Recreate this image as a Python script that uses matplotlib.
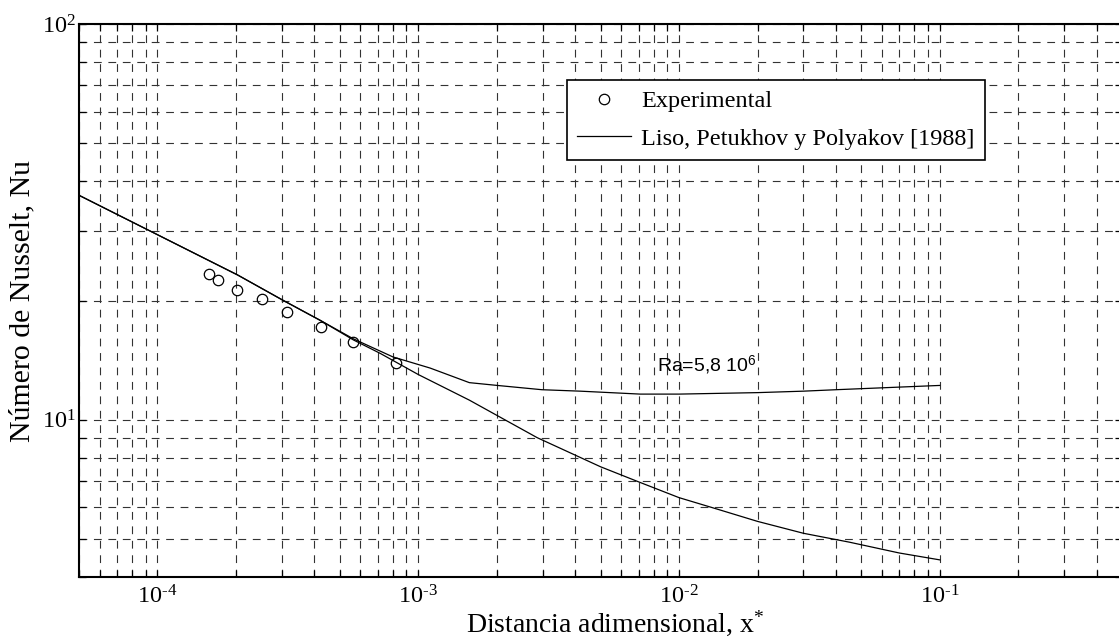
import matplotlib
matplotlib.use("Agg")
import matplotlib.pyplot as plt
from matplotlib.ticker import FuncFormatter
import numpy as np

plt.rcParams['font.family'] = ['Liberation Serif', 'DejaVu Serif']
plt.rcParams['mathtext.fontset'] = 'custom'
plt.rcParams['mathtext.rm'] = 'Liberation Serif'
plt.rcParams['mathtext.it'] = 'Liberation Serif:italic'
plt.rcParams['axes.unicode_minus'] = False

# datos experimentales
x_exp = [1.57e-4, 1.70e-4, 2.01e-4, 2.52e-4, 3.15e-4, 4.22e-4, 5.64e-4, 8.24e-4]
nu_exp = [23.3, 22.6, 21.3, 20.2, 18.7, 17.1, 15.7, 13.9]

# correlacion de Liso, Petukhov y Polyakov, conveccion mixta (Ra=5,8e6)
x_mixta = [5e-5, 2.03e-4, 3.04e-4, 4.22e-4, 5.64e-4, 8.0e-4, 1.11e-3,
           1.57e-3, 2.01e-3, 2.98e-3, 4.18e-3, 7.1e-3, 1e-2, 2e-2, 3e-2, 4e-2, 1e-1]
nu_mixta = [36.9, 23.2, 20.0, 17.8, 16.0, 14.4, 13.5,
            12.4, 12.2, 11.9, 11.8, 11.6, 11.6, 11.7, 11.8, 11.9, 12.2]

# misma correlacion, conveccion forzada
x_forz = [5e-5, 2.03e-4, 3.04e-4, 4.22e-4, 5.64e-4, 7.15e-4, 1e-3, 1.57e-3,
          2.86e-3, 5e-3, 7e-3, 1e-2, 1.4e-2, 2e-2, 3e-2, 4.5e-2, 7e-2, 1e-1]
nu_forz = [36.9, 23.2, 20.0, 17.8, 15.9, 14.7, 13.0, 11.2,
           9.0, 7.6, 6.96, 6.35, 5.94, 5.53, 5.16, 4.9, 4.6, 4.42]


def potencia(v, pos):
    e = int(np.round(np.log10(v)))
    return '$\\mathdefault{10^{\\text{%d}}}$' % e


fig = plt.figure(figsize=(11.19, 6.40), dpi=100)
ax = fig.add_axes([0.0706, 0.0984, 0.9321, 0.8641])

ax.plot(x_exp, nu_exp, 'o', ms=7.5, mfc='none', mec='black', mew=0.9,
        label='Experimental')
ax.plot(x_mixta, nu_mixta, '-', color='black', lw=0.9,
        label='Liso, Petukhov y Polyakov [1988]')
ax.plot(x_forz, nu_forz, '-', color='black', lw=0.9)

ax.set_xscale('log')
ax.set_yscale('log')
ax.set_xlim(5e-5, 0.5)
ax.set_ylim(4, 100)
ax.xaxis.set_major_formatter(FuncFormatter(potencia))
ax.yaxis.set_major_formatter(FuncFormatter(potencia))

ax.grid(True, which='both', color='0.2', lw=0.8, ls=(0, (7, 6)))
ax.tick_params(which='both', direction='in', top=True, right=True,
               length=5, width=0.9, labelsize=17.5)
ax.tick_params(axis='x', pad=6)
ax.tick_params(axis='y', pad=2)
for s in ax.spines.values():
    s.set_linewidth(1.5)

ax.set_xlabel('Distancia adimensional, x$^{*}$', fontsize=20)
ax.xaxis.set_label_coords(0.514, -0.056)
ax.set_ylabel('Número de Nusselt, Nu', fontsize=21.5)
ax.yaxis.set_label_coords(-0.042, 0.5)

ax.text(8.2e-3, 13.2, 'Ra=5,8 10$^{\\mathdefault{6}}$', fontsize=14,
        family=['Liberation Sans', 'DejaVu Sans'], va='baseline')

leg = ax.legend(loc='upper left', bbox_to_anchor=(0.468, 0.899),
                borderaxespad=0, fontsize=17.5, frameon=True, fancybox=False,
                edgecolor='black', framealpha=1, labelspacing=0.65,
                handlelength=2.2, handletextpad=0.42, borderpad=0.42)
leg.get_frame().set_linewidth(1.2)

fig.savefig('out.png', dpi=100)
